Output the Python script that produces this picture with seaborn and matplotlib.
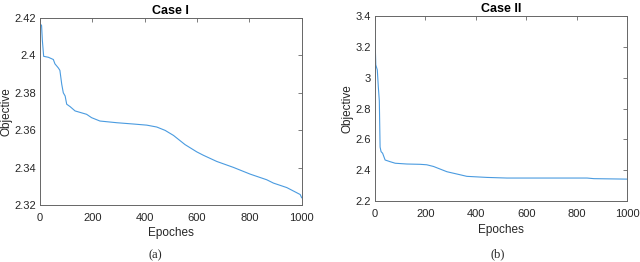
import numpy as np
import pandas as pd
import seaborn as sns
from matplotlib import pyplot as plt

# Case I: objective vs epoch
epochs_1 = [0, 6, 9, 14, 32, 51, 57, 70, 76, 83, 89, 96, 102, 115, 134, 178, 197,
            229, 293, 357, 408, 446, 478, 510, 554, 599, 624, 675, 739, 803, 866,
            892, 943, 994, 1000]
objective_1 = [2.417, 2.416, 2.408, 2.3995, 2.399, 2.3978, 2.3955, 2.3933, 2.392,
               2.3846, 2.380, 2.3783, 2.3739, 2.3726, 2.3703, 2.3685, 2.3667,
               2.3649, 2.364, 2.3633, 2.3627, 2.3617, 2.3599, 2.3572, 2.3523,
               2.3484, 2.3466, 2.3433, 2.3401, 2.3365, 2.3335, 2.3317, 2.3293,
               2.3256, 2.3238]

# Case II
epochs_2 = [0, 3, 9, 13, 17, 20, 24, 30, 40, 60, 80, 126, 179, 205, 232, 285,
            338, 364, 444, 523, 841, 868, 1000]
objective_2 = [3.255, 3.083, 3.05, 2.94, 2.85, 2.55, 2.52, 2.51, 2.466, 2.455,
               2.445, 2.44, 2.438, 2.435, 2.424, 2.39, 2.37, 2.36, 2.353, 2.349,
               2.349, 2.345, 2.342]

titles = ["Case I", "Case II"]
captions = ["(a)", "(b)"]
yticks = [[2.32, 2.34, 2.36, 2.38, 2.40, 2.42], [2.2, 2.4, 2.6, 2.8, 3.0, 3.2, 3.4]]
ylims = [(2.32, 2.42), (2.2, 3.4)]

sns.set_style("white")
plt.rcParams["font.family"] = ["Liberation Sans", "DejaVu Sans"]

line_color = "#4a9be0"
frame_color = "#666666"
text_color = "#262626"

fig = plt.figure(figsize=(6.4, 2.62), dpi=100)
ax1 = fig.add_axes([0.0625, 0.2176, 0.409, 0.7137])
ax2 = fig.add_axes([0.586, 0.2328, 0.394, 0.706])

frames = [pd.DataFrame({"Epoches": epochs_1, "Objective": objective_1}),
          pd.DataFrame({"Epoches": epochs_2, "Objective": objective_2})]

for i, (ax, df) in enumerate(zip([ax1, ax2], frames)):
    sns.lineplot(data=df, x="Epoches", y="Objective", ax=ax, color=line_color,
                 linewidth=0.8)
    ax.set_xlim(0, 1000)
    ax.set_ylim(*ylims[i])
    ax.set_xticks([0, 200, 400, 600, 800, 1000])
    ax.set_yticks(yticks[i])
    ax.set_yticklabels([f"{v:g}" for v in yticks[i]])
    ax.tick_params(direction="in", length=3, width=0.6, colors=frame_color,
                   labelcolor=text_color, labelsize=8, top=True, right=True)
    ax.tick_params(axis="x", pad=6)
    ax.tick_params(axis="y", pad=3)
    for s in ax.spines.values():
        s.set_color(frame_color)
        s.set_linewidth(0.7)
    ax.set_title(titles[i], fontsize=9, fontweight="bold", pad=3,
                 color="black")
    ax.set_xlabel("Epoches", fontsize=8.5, color=text_color, labelpad=3)
    ax.set_ylabel("Objective", fontsize=8.5, color=text_color, labelpad=1)

fig.text(155 / 640, 1 - 255 / 262, captions[0], ha="center", va="center",
         fontsize=9, family=["Liberation Serif"])
fig.text(498 / 640, 1 - 254 / 262, captions[1], ha="center", va="center",
         fontsize=9, family=["Liberation Serif"])

fig.savefig("out.png", dpi=100)
